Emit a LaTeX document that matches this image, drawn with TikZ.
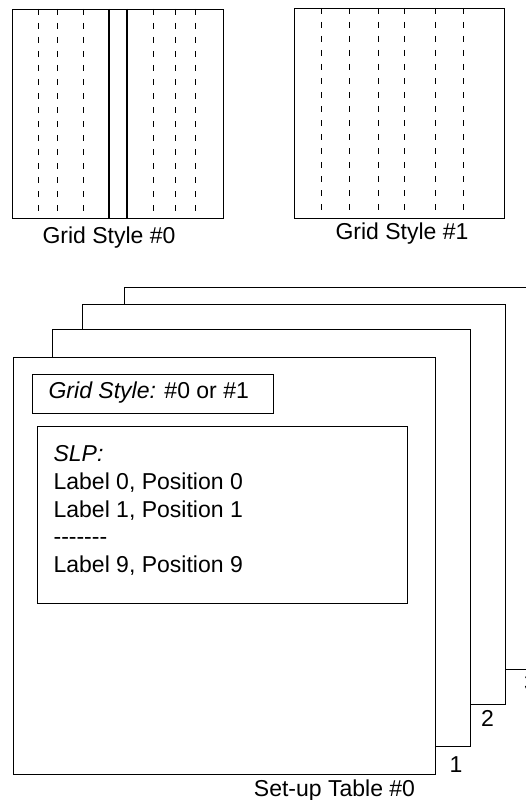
\documentclass[tikz,border=0pt]{standalone}
\usepackage{fontspec}
\setmainfont{Liberation Sans}
\usetikzlibrary{positioning}

\begin{document}
\begin{tikzpicture}[x=1pt,y=-1pt,line width=1.2pt,
        panel/.style={draw,fill=white,inner sep=0pt,anchor=north west},
        gridline/.style={line width=0.9pt,dash pattern=on 6pt off 8pt},
        caption/.style={font=\fontsize{23}{28}\selectfont,inner sep=0pt,anchor=base}]
        \useasboundingbox (0,0) rectangle (526,800);
        % the two grid styles
        \node[panel,minimum width=211pt,minimum height=209pt] (grid0) at (12,9) {};
        \foreach \gx in {38,57,83,153,175,195}
            \draw[gridline] (\gx,9) -- (\gx,218);
        \draw (109,9) -- (109,218) (127,9) -- (127,218);
        \node[caption] (grid0cap) at (109,243) {Grid Style \#0};
        \node[panel,minimum width=210pt,minimum height=210pt] (grid1) at (294,8) {};
        \foreach \gx in {321,349,378,404,435,463}
            \draw[gridline] (\gx,8) -- (\gx,218);
        \node[caption] (grid1cap) at (402,239) {Grid Style \#1};
        % stack of set-up tables, back to front
        \node[panel,minimum width=423pt,minimum height=382pt] (table3) at (124,287) {};
        \node[panel,minimum width=423pt,minimum height=400pt] (table2) at (82,304) {};
        \node[panel,minimum width=418pt,minimum height=417pt] (table1) at (52,329) {};
        \node[panel,minimum width=422pt,minimum height=417pt] (table0) at (13,357) {};
        \node[caption] (num3) at (530.5,690) {3};
        \node[caption] (num2) at (487.5,726) {2};
        \node[caption] (num1) at (456,772) {1};
        \node[caption] (tablecap) at (334.5,796) {Set-up Table \#0};
        % contents of table 0
        \node[panel,minimum width=241pt,minimum height=39pt] (style) at (32,374) {};
        \node[caption,anchor=base west] (styletext) at (48,398.5) {\textit{Grid Style:} \#0 or \#1};
        \node[panel,minimum width=370pt,minimum height=177pt] (slp) at (37,426) {};
        \node[anchor=north west,inner sep=0pt,align=left,font=\fontsize{23}{27.7}\selectfont] (slptext) at (53,445)
            {\textit{SLP:}\\Label 0, Position 0\\Label 1, Position 1\\-{}-{}-{}-{}-{}-{}-\\Label 9, Position 9};
    \end{tikzpicture}
\end{document}
